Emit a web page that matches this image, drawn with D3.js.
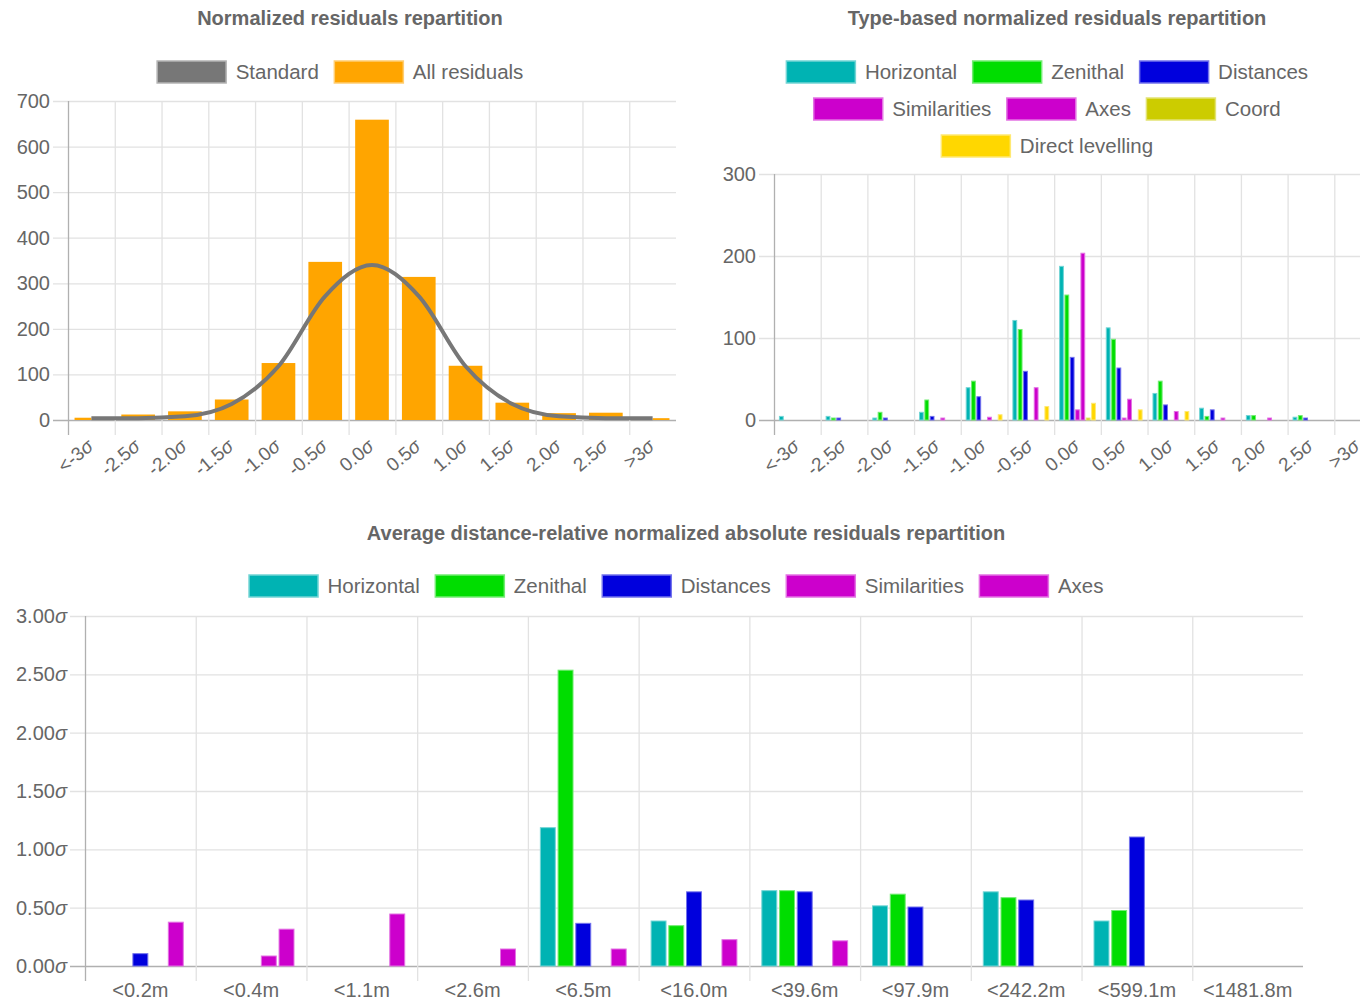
<!DOCTYPE html>
<html>
<head>
<meta charset="utf-8">
<title>Residuals repartition</title>
<script src="https://cdnjs.cloudflare.com/ajax/libs/d3/7.8.5/d3.min.js"></script>
<style>
  body { margin: 0; background: #fff; font-family: "Liberation Sans", Arial, sans-serif; }
  svg { display: block; }
  .title { font-weight: bold; font-size: 20px; fill: #666; }
  .legend text { font-size: 20.5px; fill: #666; }
  .tick-label { font-size: 20px; fill: #666; }
  .rot-label { font-size: 19px; fill: #666; }
</style>
</head>
<body>
<svg id="chart" width="1360" height="1002"></svg>
<script>
// ---- data ----
var sigmaLabels = ["<-3σ", "-2.5σ", "-2.0σ", "-1.5σ", "-1.0σ", "-0.5σ", "0.0σ", "0.5σ", "1.0σ", "1.5σ", "2.0σ", "2.5σ", ">3σ"];

// chart 1: all residuals + standard curve
var allResiduals = [5, 12, 19, 45, 125, 347, 659, 314, 119, 38, 15, 16, 4];
var standardCurve = [4, 4, 8, 35, 118, 272, 340, 272, 118, 35, 8, 4, 4];

// chart 2: type based counts
var typeHorizontal = [5, 5, 3, 10, 40, 122, 188, 113, 33, 15, 6, 4, 0];
var typeZenithal = [0, 3, 10, 25, 48, 111, 153, 99, 48, 5, 6, 6, 0];
var typeDistances = [0, 3, 3, 5, 29, 60, 77, 64, 19, 13, 0, 3, 0];
var typeSimilarities = [0, 0, 0, 0, 0, 0, 13, 3, 0, 0, 0, 0, 0];
var typeAxes = [0, 0, 0, 3, 4, 40, 204, 26, 11, 3, 3, 0, 0];
var typeCoord = [0, 0, 0, 0, 0, 0, 3, 0, 0, 0, 0, 0, 0];
var typeLevelling = [0, 0, 0, 0, 7, 17, 21, 13, 11, 0, 0, 0, 0];

// chart 3: distance classes
var distLabels = ["<0.2m", "<0.4m", "<1.1m", "<2.6m", "<6.5m", "<16.0m", "<39.6m", "<97.9m", "<242.2m", "<599.1m", "<1481.8m"];
var distHorizontal = [0, 0, 0, 0, 1.19, 0.39, 0.65, 0.52, 0.64, 0.39, 0];
var distZenithal = [0, 0, 0, 0, 2.54, 0.35, 0.65, 0.62, 0.59, 0.48, 0];
var distDistances = [0.11, 0, 0, 0, 0.37, 0.64, 0.64, 0.51, 0.57, 1.11, 0];
var distSimilarities = [0, 0.09, 0, 0, 0, 0, 0, 0, 0, 0, 0];
var distAxes = [0.38, 0.32, 0.45, 0.15, 0.15, 0.23, 0.22, 0, 0, 0, 0];

var countTicks = [0, 100, 200, 300, 400, 500, 600, 700];
var typeTicks = [0, 100, 200, 300];
var sigmaTicks = [0, 0.5, 1, 1.5, 2, 2.5, 3];

var colors = {
  standard: "#777777",
  all: "#ffa500",
  horizontal: "#00b3b3",
  zenithal: "#00dd00",
  distances: "#0000dd",
  similarities: "#cc00cc",
  axes: "#cc00cc",
  coord: "#cccc00",
  levelling: "#ffd700"
};

var svg = d3.select("#chart");
var tickLen = 15;

function sigmaText(sel, label) {
  var i = label.indexOf("σ");
  if (i < 0) { sel.text(label); return; }
  sel.append("tspan").text(label.slice(0, i));
  sel.append("tspan").style("font-style", "italic").text("σ");
}

function lighter(c) { return d3.interpolateRgb(c, "#ffffff")(0.45); }

// draws grid, axes, labels, returns scales
function drawFrame(o) {
  var g = svg.append("g");
  var x = d3.scaleBand().domain(o.categories).range([o.left, o.right]);
  var y = d3.scaleLinear().domain([0, o.yMax]).range([o.bottom, o.top]);

  // horizontal grid
  g.selectAll(".hgrid").data(o.yTicks).enter().append("line")
    .attr("x1", o.left - tickLen).attr("x2", o.right)
    .attr("y1", function(d) { return y(d) + 0.5; }).attr("y2", function(d) { return y(d) + 0.5; })
    .attr("stroke", function(d) { return d === 0 ? "#b0b0b0" : "#e2e2e2"; })
    .attr("stroke-width", 1.3);
  // vertical grid (category left edges)
  g.selectAll(".vgrid").data(o.categories).enter().append("line")
    .attr("x1", function(d) { return x(d) + 0.5; }).attr("x2", function(d) { return x(d) + 0.5; })
    .attr("y1", o.top).attr("y2", o.bottom + tickLen)
    .attr("stroke", function(d, i) { return i === 0 ? "#b0b0b0" : "#e2e2e2"; })
    .attr("stroke-width", 1.3);

  // y labels
  g.selectAll(".ylab").data(o.yTicks).enter().append("text")
    .attr("class", "tick-label")
    .attr("x", o.left - 18).attr("y", function(d) { return y(d); })
    .attr("dy", "0.35em").attr("text-anchor", "end")
    .each(function(d) { sigmaText(d3.select(this), o.yFormat(d)); });

  // x labels
  var xl = g.selectAll(".xlab").data(o.categories).enter().append("text");
  if (o.rotate) {
    xl.attr("class", "rot-label").attr("text-anchor", "end").attr("dy", "0.35em")
      .attr("transform", function(d) {
        return "translate(" + (x(d) + x.bandwidth() / 2 - 1) + "," + (o.bottom + 23) + ") rotate(-40)";
      });
  } else {
    xl.attr("class", "tick-label").attr("text-anchor", "middle")
      .attr("x", function(d) { return x(d) + x.bandwidth() / 2; })
      .attr("y", o.bottom + 31);
  }
  xl.each(function(d) { sigmaText(d3.select(this), d); });

  return { g: g, x: x, y: y };
}

function drawGroupedBars(f, series) {
  var inner = d3.scaleBand().domain(d3.range(series.length))
    .range([f.x.bandwidth() * 0.1, f.x.bandwidth() * 0.9])
    .paddingInner(0.1).paddingOuter(0.05);
  series.forEach(function(s, si) {
    f.g.selectAll(null).data(s.values.map(function(v, i) { return { v: v, c: f.x.domain()[i] }; })).enter()
      .filter(function(d) { return d.v > 0; })
      .append("rect")
      .attr("x", function(d) { return f.x(d.c) + inner(si) + 0.5; })
      .attr("width", inner.bandwidth() - 1)
      .attr("y", function(d) { return f.y(d.v) + 0.5; })
      .attr("height", function(d) { return f.y(0) - f.y(d.v) - 0.5; })
      .attr("fill", s.color)
      .attr("stroke", lighter(s.color))
      .attr("stroke-width", 1);
  });
}

function drawLegend(items, cx, cy) {
  var lg = svg.append("g").attr("class", "legend");
  var boxW = 70, boxH = 23, gap = 9, itemGap = 15;
  var nodes = items.map(function(it) {
    var ig = lg.append("g");
    ig.append("rect").attr("width", boxW - 1).attr("height", boxH - 1)
      .attr("x", 0.5).attr("y", cy - boxH / 2 + 0.5)
      .attr("fill", it.color).attr("stroke", lighter(it.color)).attr("stroke-width", 1.5);
    var t = ig.append("text").attr("x", boxW + gap).attr("y", cy).attr("dy", "0.35em").text(it.name);
    return { g: ig, w: boxW + gap + t.node().getComputedTextLength() };
  });
  var total = d3.sum(nodes, function(n) { return n.w; }) + itemGap * (nodes.length - 1);
  var xpos = cx - total / 2;
  nodes.forEach(function(n) {
    n.g.attr("transform", "translate(" + xpos + ",0)");
    xpos += n.w + itemGap;
  });
}

function title(text, cx, y) {
  svg.append("text").attr("class", "title").attr("x", cx).attr("y", y)
    .attr("text-anchor", "middle").text(text);
}

// ---- chart 1 ----
title("Normalized residuals repartition", 350, 25);
drawLegend([{ name: "Standard", color: colors.standard }, { name: "All residuals", color: colors.all }], 340, 72);
var f1 = drawFrame({
  categories: sigmaLabels, left: 68, right: 676, top: 101, bottom: 420,
  yMax: 700, yTicks: countTicks, yFormat: function(d) { return String(d); }, rotate: true
});
var bw1 = f1.x.bandwidth() * 0.72;
f1.g.selectAll(null).data(allResiduals.map(function(v, i) { return { v: v, i: i }; })).enter()
  .append("rect")
  .attr("x", function(d) {
    var c = f1.x(sigmaLabels[d.i]) + f1.x.bandwidth() / 2;
    return d.i === sigmaLabels.length - 1 ? c : c - bw1 / 2;
  })
  .attr("width", function(d) { return (d.i === 0 || d.i === sigmaLabels.length - 1) ? bw1 / 2 : bw1; })
  .attr("y", function(d) { return f1.y(d.v); })
  .attr("height", function(d) { return f1.y(0) - f1.y(d.v); })
  .attr("fill", colors.all);
var line1 = d3.line()
  .x(function(d, i) { return f1.x(sigmaLabels[i]) + f1.x.bandwidth() / 2; })
  .y(function(d) { return f1.y(d); })
  .curve(d3.curveMonotoneX);
f1.g.append("path").datum(standardCurve).attr("d", line1)
  .attr("fill", "none").attr("stroke", colors.standard).attr("stroke-width", 4);

// ---- chart 2 ----
title("Type-based normalized residuals repartition", 1057, 25);
drawLegend([{ name: "Horizontal", color: colors.horizontal }, { name: "Zenithal", color: colors.zenithal }, { name: "Distances", color: colors.distances }], 1047, 72);
drawLegend([{ name: "Similarities", color: colors.similarities }, { name: "Axes", color: colors.axes }, { name: "Coord", color: colors.coord }], 1047, 109);
drawLegend([{ name: "Direct levelling", color: colors.levelling }], 1047, 146);
var f2 = drawFrame({
  categories: sigmaLabels, left: 774, right: 1381, top: 174, bottom: 420,
  yMax: 300, yTicks: typeTicks, yFormat: function(d) { return String(d); }, rotate: true
});
drawGroupedBars(f2, [
  { color: colors.horizontal, values: typeHorizontal },
  { color: colors.zenithal, values: typeZenithal },
  { color: colors.distances, values: typeDistances },
  { color: colors.similarities, values: typeSimilarities },
  { color: colors.axes, values: typeAxes },
  { color: colors.coord, values: typeCoord },
  { color: colors.levelling, values: typeLevelling }
]);

// ---- chart 3 ----
title("Average distance-relative normalized absolute residuals repartition", 686, 540);
drawLegend([
  { name: "Horizontal", color: colors.horizontal }, { name: "Zenithal", color: colors.zenithal },
  { name: "Distances", color: colors.distances }, { name: "Similarities", color: colors.similarities },
  { name: "Axes", color: colors.axes }
], 676, 586);
var f3 = drawFrame({
  categories: distLabels, left: 85, right: 1303, top: 616, bottom: 966,
  yMax: 3, yTicks: sigmaTicks, yFormat: function(d) { return d.toFixed(2) + "σ"; }, rotate: false
});
drawGroupedBars(f3, [
  { color: colors.horizontal, values: distHorizontal },
  { color: colors.zenithal, values: distZenithal },
  { color: colors.distances, values: distDistances },
  { color: colors.similarities, values: distSimilarities },
  { color: colors.axes, values: distAxes }
]);
</script>
</body>
</html>
